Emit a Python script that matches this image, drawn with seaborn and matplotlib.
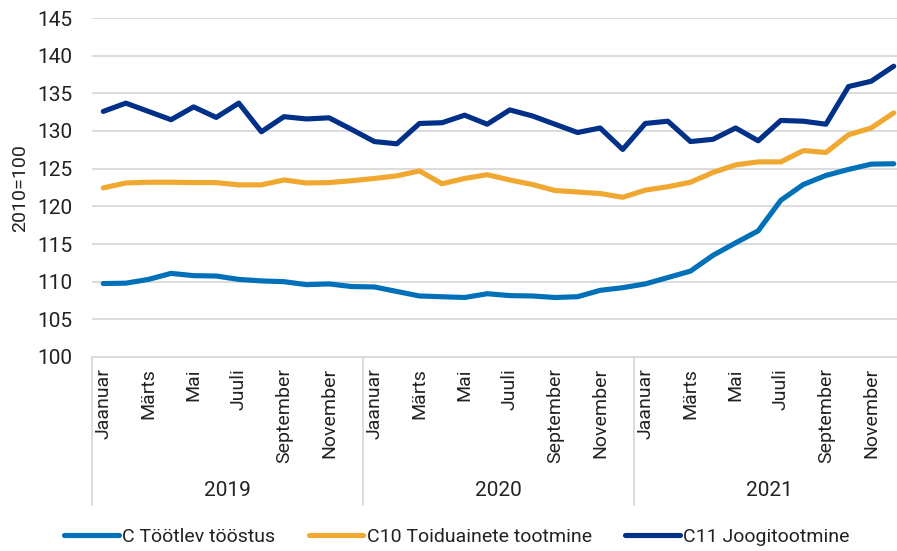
import numpy as np
import pandas as pd
import matplotlib
matplotlib.use("Agg")
import matplotlib.pyplot as plt
import matplotlib.transforms as mtransforms
from matplotlib.lines import Line2D
import seaborn as sns

# ---------------- data ----------------
years = ["2019", "2020", "2021"]
months = ["Jaanuar", "Veebruar", "Märts", "Aprill", "Mai", "Juuni",
          "Juuli", "August", "September", "Oktoober", "November", "Detsember"]
series_names = ["C Töötlev tööstus", "C10 Toiduainete tootmine", "C11 Joogitootmine"]

c_tootlev = [109.75, 109.8, 110.3, 111.1, 110.8, 110.75, 110.3, 110.1, 110.0, 109.6, 109.7, 109.35,
             109.3, 108.7, 108.1, 108.0, 107.9, 108.4, 108.15, 108.1, 107.9, 108.0, 108.85, 109.2,
             109.7, 110.55, 111.4, 113.5, 115.15, 116.75, 120.8, 122.9, 124.1, 124.9, 125.6, 125.65]
c10_toit = [122.45, 123.1, 123.2, 123.2, 123.15, 123.15, 122.85, 122.85, 123.5, 123.1, 123.15, 123.4,
            123.7, 124.05, 124.7, 123.0, 123.7, 124.2, 123.5, 122.9, 122.1, 121.9, 121.7, 121.2,
            122.15, 122.6, 123.2, 124.5, 125.5, 125.9, 125.9, 127.4, 127.15, 129.5, 130.4, 132.4]
c11_jook = [132.6, 133.7, 132.6, 131.5, 133.2, 131.8, 133.7, 129.9, 131.9, 131.6, 131.75, 130.2,
            128.6, 128.3, 131.0, 131.1, 132.1, 130.9, 132.8, 132.0, 130.9, 129.8, 130.4, 127.55,
            131.0, 131.3, 128.6, 128.9, 130.4, 128.7, 131.4, 131.3, 130.9, 135.9, 136.6, 138.6]

colors = ["#0070b8", "#f0a830", "#003087"]

n = len(years) * len(months)
idx = np.arange(n)
df = pd.concat([
    pd.DataFrame({"t": idx, "value": vals, "series": name})
    for name, vals in zip(series_names, [c_tootlev, c10_toit, c11_jook])
], ignore_index=True)

# ---------------- style ----------------
sns.set_theme(style="white")
FONT = ["Roboto", "DejaVu Sans"]
plt.rcParams["font.family"] = FONT
TXT = "#222222"

W, H = 897, 551
fig = plt.figure(figsize=(W / 100, H / 100), dpi=100)
left_px, right_px, top_px, bot_px = 92, 905, 18, 357
ax = fig.add_axes([left_px / W, 1 - bot_px / H, (right_px - left_px) / W, (bot_px - top_px) / H])

sns.lineplot(data=df, x="t", y="value", hue="series", hue_order=series_names,
             palette=colors, linewidth=3.7, ax=ax, legend=False,
             solid_capstyle="round", solid_joinstyle="round")

ax.set_xlim(-0.5, n - 0.5)
ax.set_ylim(100, 145)
ax.set_yticks(np.arange(100, 146, 5))
ax.yaxis.grid(True, color="#d9d9d9", linewidth=1.3)
ax.set_axisbelow(True)
for s in ["top", "right", "left"]:
    ax.spines[s].set_visible(False)
ax.spines["bottom"].set_color("#d9d9d9")
ax.spines["bottom"].set_linewidth(1.3)

ax.tick_params(axis="y", length=0, pad=14, labelsize=15, labelcolor=TXT)

# month labels (every second month)
tick_pos = idx[::2]
tick_lab = [months[i % 12] for i in tick_pos]
ax.set_xticks(tick_pos)
ax.set_xticklabels(tick_lab, rotation=90, fontsize=14, color=TXT)
ax.tick_params(axis="x", length=0, pad=8)
ax.set_xlabel("")

# year separators and labels
trans = mtransforms.blended_transform_factory(ax.transData, ax.transAxes)
sep_bottom = -(505 - bot_px) / (bot_px - top_px)
for k in range(len(years) + 1):
    xs = k * 12 - 0.5
    ax.plot([xs, xs], [0, sep_bottom], transform=trans, color="#d9d9d9",
            linewidth=1.3, clip_on=False)
year_y = -(490 - bot_px) / (bot_px - top_px)
for k, yr in enumerate(years):
    ax.text(k * 12 + 5.5, year_y, yr, transform=trans, ha="center", va="center",
            fontsize=15, color=TXT)

ax.set_ylabel("2010=100", fontsize=14, color=TXT)
ax.yaxis.set_label_coords((29 - left_px) / (right_px - left_px), (bot_px - 188) / (bot_px - top_px))

# legend
handles = [Line2D([0], [0], color=c, linewidth=3.7, solid_capstyle="round") for c in colors]
fig.legend(handles, series_names, loc="center", bbox_to_anchor=(457 / W, 1 - 537 / H),
           ncol=3, frameon=False, handlelength=2.8, handletextpad=0.2,
           columnspacing=1.7, prop={"size": 14}, labelcolor=TXT)

fig.savefig("out.png", dpi=100)
